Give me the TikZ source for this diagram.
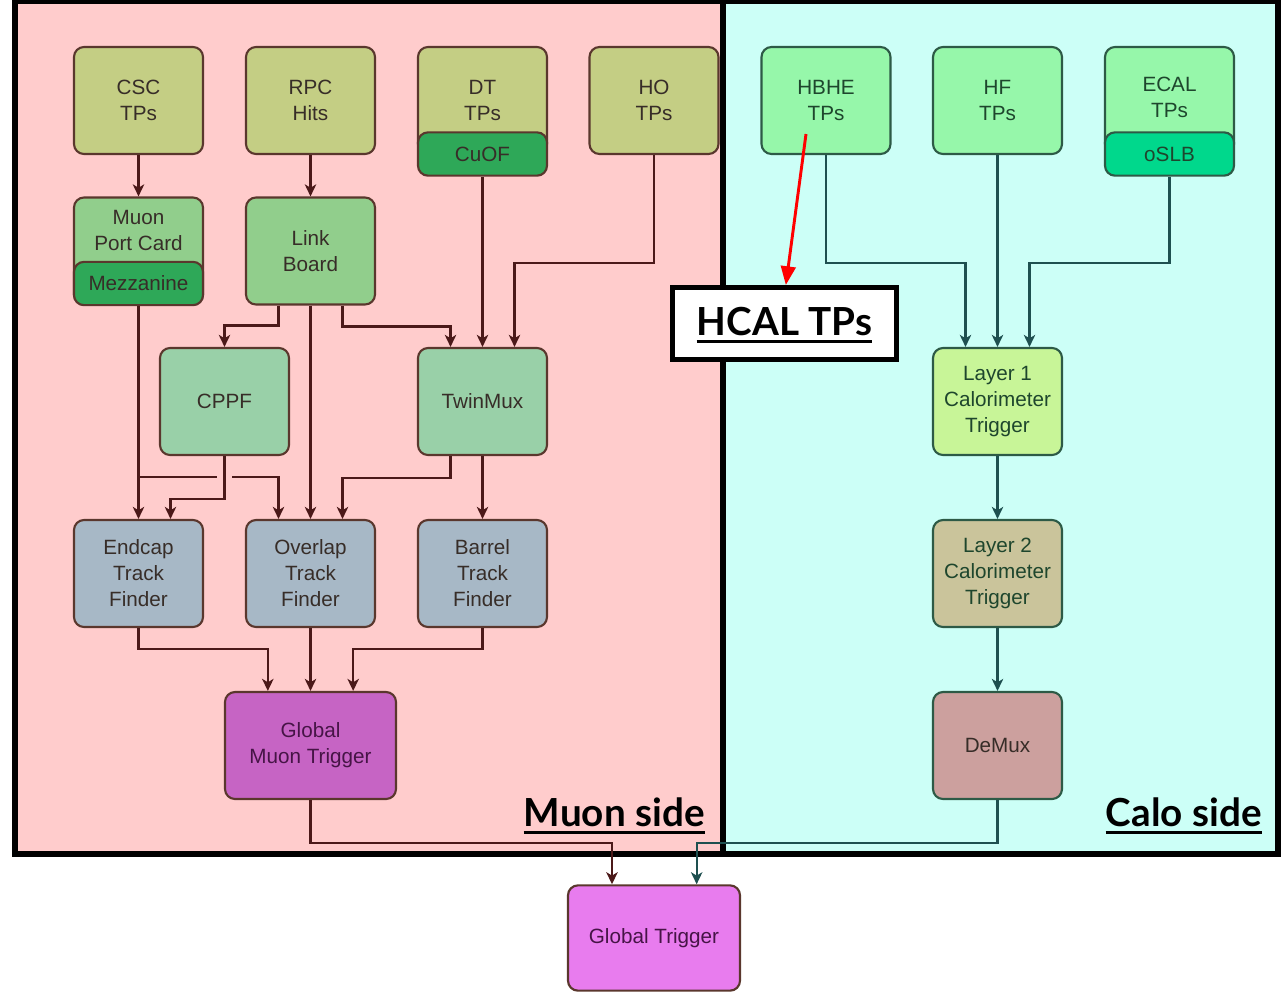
\documentclass[tikz,border=0pt]{standalone}
\usepackage{fontspec}
\setmainfont{Liberation Sans}
\newfontfamily\latofont{Lato}
\usetikzlibrary{arrows.meta}

\definecolor{pinkbg}{RGB}{255,204,204}
\definecolor{cyanbg}{RGB}{204,255,247}
\definecolor{olivecol}{RGB}{196,206,132}
\definecolor{lgreen}{RGB}{145,206,140}
\definecolor{dgreen}{RGB}{46,168,88}
\definecolor{mint}{RGB}{153,208,168}
\definecolor{steel}{RGB}{167,184,198}
\definecolor{gmtcol}{RGB}{198,100,196}
\definecolor{gtcol}{RGB}{232,124,238}
\definecolor{calosrc}{RGB}{150,247,170}
\definecolor{oslbcol}{RGB}{0,216,140}
\definecolor{lonecol}{RGB}{200,245,152}
\definecolor{ltwocol}{RGB}{202,196,155}
\definecolor{demuxcol}{RGB}{204,160,158}
\definecolor{mline}{RGB}{75,25,25}
\definecolor{cline}{RGB}{30,80,80}
\definecolor{mborder}{RGB}{90,55,45}
\definecolor{cborder}{RGB}{45,90,70}
\definecolor{mtext}{RGB}{55,45,40}
\definecolor{ctext}{RGB}{30,70,45}
\definecolor{ptext}{RGB}{70,20,70}

\tikzset{
  blk/.style={draw, rounded corners=7.5pt, line width=1.6pt, minimum width=96.75pt,
    minimum height=80.25pt, align=center, inner sep=0pt,
    font=\fontsize{15.5}{19.5}\selectfont},
  mbox/.style={blk, draw=mborder, text=mtext},
  cbox/.style={blk, draw=cborder, text=ctext},
  subbox/.style={minimum height=32.5pt},
  txtonly/.style={align=center, inner sep=0pt, font=\fontsize{15.5}{19.5}\selectfont},
  marrow/.style={draw=mline, line width=1.7pt, -{Stealth[length=9pt,width=8.5pt,inset=2.5pt]}},
  mplain/.style={draw=mline, line width=1.7pt},
  carrow/.style={draw=cline, line width=1.7pt, -{Stealth[length=9pt,width=8.5pt,inset=2.5pt]}},
  redarrow/.style={draw=red, line width=2.2pt, -{Triangle[length=14pt,width=11pt]}},
  heading/.style={inner sep=0pt, font=\latofont\bfseries\fontsize{29}{34}\selectfont},
  frame/.style={draw=black, line width=3.8pt},
}

\begin{document}
\begin{tikzpicture}[x=0.75pt,y=-0.75pt]
\useasboundingbox (0,0) rectangle (1281,993);

% backgrounds and frames
\fill[pinkbg] (15,1) rectangle (723,854);
\fill[cyanbg] (723,1) rectangle (1278,854);
\draw[frame] (15,1) rectangle (723,854);
\draw[frame] (723,1) rectangle (1278,854);

% muon side nodes
\node[mbox, fill=olivecol] (csc) at (138.5,100.5) {CSC\\TPs};
\node[mbox, fill=olivecol] (rpc) at (310.5,100.5) {RPC\\Hits};
\node[mbox, fill=olivecol] (dt) at (482.5,100.5) {DT\\TPs};
\node[mbox, fill=dgreen, subbox] (cuof) at (482.5,154) {CuOF};
\node[mbox, fill=olivecol] (ho) at (654,100.5) {HO\\TPs};

\node[mbox, fill=lgreen] (mpc) at (138.5,251) {};
\node[txtonly, text=mtext] (mpctxt) at (138.5,230) {Muon\\Port Card};
\node[mbox, fill=dgreen, subbox] (mezz) at (138.5,283.5) {Mezzanine};
\node[mbox, fill=lgreen] (lb) at (310.5,251) {Link\\Board};

\node[mbox, fill=mint] (cppf) at (224.5,401.5) {CPPF};
\node[mbox, fill=mint] (twin) at (482.5,401.5) {TwinMux};

\node[mbox, fill=steel] (ecap) at (138.5,573.5) {Endcap\\Track\\Finder};
\node[mbox, fill=steel] (ovl) at (310.5,573.5) {Overlap\\Track\\Finder};
\node[mbox, fill=steel] (bar) at (482.5,573.5) {Barrel\\Track\\Finder};

\node[mbox, fill=gmtcol, text=ptext, minimum width=128.25pt] (gmt) at (310.5,745.5) {Global\\Muon Trigger};

\node[mbox, fill=gtcol, text=ptext, minimum width=129pt, minimum height=79pt] (gt) at (654,938) {Global Trigger};

% calo side nodes
\node[cbox, fill=calosrc] (hbhe) at (826,100.5) {HBHE\\TPs};
\node[cbox, fill=calosrc] (hf) at (997.5,100.5) {HF\\TPs};
\node[cbox, fill=calosrc] (ecal) at (1169.5,100.5) {};
\node[txtonly, text=ctext] (ecaltxt) at (1169.5,97) {ECAL\\TPs};
\node[cbox, fill=oslbcol, subbox] (oslb) at (1169.5,154) {oSLB};

\node[cbox, fill=lonecol] (lone) at (997.5,401.5) {Layer 1\\Calorimeter\\Trigger};
\node[cbox, fill=ltwocol] (ltwo) at (997.5,573.5) {Layer 2\\Calorimeter\\Trigger};
\node[cbox, fill=demuxcol, text=mtext] (demux) at (997.5,745.5) {DeMux};

% muon connectors
\draw[marrow] (csc.south) -- (mpc.north);
\draw[marrow] (rpc.south) -- (lb.north);
\draw[marrow] ([xshift=-24pt]lb.south) -- ++(0,20) -| (cppf.north);
\draw[marrow] (lb.south) -- (ovl.north);
\draw[marrow] ([xshift=24pt]lb.south) -- ++(0,21) -| ([xshift=-24pt]twin.north);
\draw[marrow] (cuof.south) -- (twin.north);
\draw[marrow] (ho.south) -- ++(0,108) -| ([xshift=24pt]twin.north);
\draw[marrow] (mezz.south) -- (ecap.north);
\coordinate (hopL) at (217,477);
\coordinate (hopR) at (232,477);
\draw[mplain] (mezz.south |- hopL) -- (hopL);
\draw[marrow] (hopR) -| ([xshift=-24pt]ovl.north);
\draw[marrow] (cppf.south) -- ++(0,43) -| ([xshift=24pt]ecap.north);
\draw[marrow] ([xshift=-24pt]twin.south) -- ++(0,22) -| ([xshift=24pt]ovl.north);
\draw[marrow] (twin.south) -- (bar.north);
\draw[marrow] (ecap.south) -- ++(0,21) -| ([xshift=-32pt]gmt.north);
\draw[marrow] (ovl.south) -- (gmt.north);
\draw[marrow] (bar.south) -- ++(0,21) -| ([xshift=32pt]gmt.north);
\draw[marrow] (gmt.south) -- ++(0,43) -| ([xshift=-31.5pt]gt.north);

% calo connectors
\draw[carrow] (hbhe.south) -- ++(0,108) -| ([xshift=-24pt]lone.north);
\draw[carrow] (hf.south) -- (lone.north);
\draw[carrow] (oslb.south) -- ++(0,86) -| ([xshift=24pt]lone.north);
\draw[carrow] (lone.south) -- (ltwo.north);
\draw[carrow] (ltwo.south) -- (demux.north);
\draw[carrow] (demux.south) -- ++(0,43) -| ([xshift=32pt]gt.north);

% HCAL TPs callout
\node[draw=black, line width=3.8pt, fill=white, minimum width=168pt, minimum height=54pt, inner sep=0pt] (hcal) at (784.5,323.5) {};
\node[heading, anchor=base] (hcaltxt) at (784.5,335) {HCAL TPs};
\draw[line width=2.2pt] ([yshift=-5pt]hcaltxt.base west) -- ([yshift=-5pt]hcaltxt.base east);
\coordinate (redstart) at (806,134);
\draw[redarrow] (redstart) -- ([xshift=1pt]hcal.north);

% side labels
\node[heading, anchor=base east] (muonlbl) at (705,826) {Muon side};
\draw[line width=2.2pt] ([yshift=-5pt]muonlbl.base west) -- ([yshift=-5pt]muonlbl.base east);
\node[heading, anchor=base east] (calolbl) at (1262,826) {Calo side};
\draw[line width=2.2pt] ([yshift=-5pt]calolbl.base west) -- ([yshift=-5pt]calolbl.base east);
\end{tikzpicture}
\end{document}
